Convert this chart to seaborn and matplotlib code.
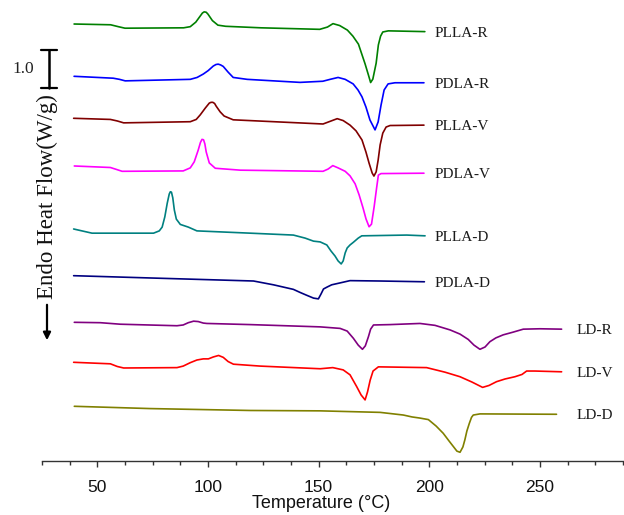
import numpy as np
import pandas as pd
import matplotlib
matplotlib.use("Agg")
import matplotlib.pyplot as plt
import matplotlib.transforms as mtransforms
import seaborn as sns

# ---------------- data ----------------
samples = ["PLLA-R", "PDLA-R", "PLLA-V", "PDLA-V", "PLLA-D", "PDLA-D", "LD-R", "LD-V", "LD-D"]
colors = ["#008000", "#0000FF", "#800000", "#FF00FF", "#008080", "#000080", "#800080", "#FF0000", "#808000"]
# vertical stacking offsets (W/g)
offsets = [-0.632, -2.008, -3.113, -4.368, -6.026, -7.255, -8.482, -9.534, -10.692]

plla_r_T = [39.5, 56, 59.5, 62.5, 89, 92, 94.5, 96.5, 97.5, 98.3, 99.2, 100, 102, 104.5, 108, 124, 150.5, 154,
            156.5, 159.5, 163, 165.5, 168, 169.5, 171, 172.5, 173.5, 174.5, 176, 177, 178, 179, 181.5, 198]
plla_r_hf = [0, -0.02, -0.07, -0.11, -0.10, -0.07, 0.05, 0.21, 0.29, 0.32, 0.31, 0.26, 0.09, -0.03, -0.06,
             -0.10, -0.14, -0.08, 0.01, -0.04, -0.16, -0.32, -0.53, -0.79, -1.05, -1.34, -1.54, -1.45, -1.03,
             -0.55, -0.32, -0.21, -0.18, -0.20]

pdla_r_T = [39.5, 57.2, 60, 62.6, 92, 95.1, 97.9, 100.1, 102.4, 103.6, 104.6, 105.7, 106.9, 109.1, 111.4, 117.7,
            141.6, 151.9, 155.2, 158.8, 162, 165.6, 167.8, 169.6, 171.4, 173.2, 175.5, 176.9, 178.2, 179.6,
            181.4, 184.5, 197.6]
pdla_r_hf = [0, -0.05, -0.08, -0.12, -0.08, -0.03, 0.06, 0.15, 0.27, 0.31, 0.32, 0.30, 0.26, 0.11, -0.03, -0.08,
             -0.16, -0.13, -0.08, -0.03, -0.08, -0.20, -0.36, -0.54, -0.81, -1.15, -1.41, -1.20, -0.76, -0.36,
             -0.20, -0.17, -0.17]

plla_v_T = [39.3, 55.9, 59, 61.9, 92, 94.7, 96.5, 98.8, 100.6, 101.4, 102.2, 103, 103.7, 105.5, 107.3, 111.4,
            152, 155.2, 158.4, 161.1, 164.2, 166.9, 169.6, 171.4, 172.8, 174.2, 175, 176, 176.9, 177.8, 179,
            180.5, 182.3, 197.6]
plla_v_hf = [0, -0.03, -0.07, -0.12, -0.09, -0.03, 0.09, 0.27, 0.40, 0.42, 0.42, 0.39, 0.32, 0.17, 0.06, -0.04,
             -0.15, -0.08, -0.01, -0.06, -0.18, -0.33, -0.57, -0.89, -1.18, -1.44, -1.52, -1.41, -1.10, -0.70,
             -0.39, -0.23, -0.19, -0.18]

pdla_v_T = [39.6, 55.9, 58.6, 61.2, 88.8, 92, 93.8, 95.6, 96.6, 97.3, 98.0, 98.6, 99.2, 100.6, 103.3, 114.6,
            152, 154.3, 156.4, 158.8, 162, 164.2, 166.5, 168.3, 170.1, 171.4, 172.8, 173.9, 175.1, 176.2, 177,
            178.2, 197.6]
pdla_v_hf = [0, -0.04, -0.09, -0.14, -0.13, -0.05, 0.11, 0.42, 0.62, 0.70, 0.69, 0.58, 0.37, 0.08, -0.06, -0.11,
             -0.14, -0.08, 0.01, -0.05, -0.14, -0.26, -0.47, -0.76, -1.11, -1.39, -1.60, -1.53, -1.07, -0.58,
             -0.24, -0.20, -0.19]

plla_d_T = [39.3, 42.3, 47.6, 75.4, 78, 79.3, 80.5, 81.6, 82.5, 83.0, 83.5, 84.1, 84.8, 85.7, 87.5, 91.1, 95,
            119.1, 138.6, 143.9, 147.7, 150.7, 153.7, 155.6, 157.4, 158.8, 160.2, 161.1, 162, 162.9, 164.2,
            165.7, 167.9, 169.5, 189.8, 198.1]
plla_d_hf = [0, -0.04, -0.11, -0.11, -0.05, 0.05, 0.32, 0.68, 0.92, 0.98, 0.97, 0.82, 0.50, 0.26, 0.12, 0.05,
             -0.05, -0.11, -0.16, -0.24, -0.32, -0.34, -0.42, -0.58, -0.71, -0.84, -0.92, -0.84, -0.63, -0.50,
             -0.42, -0.35, -0.24, -0.18, -0.16, -0.18]

pdla_d_T = [39.3, 73.9, 120.6, 129.6, 138.6, 141.6, 144.4, 147.7, 149.9, 151.1, 152.2, 153.8, 155.9, 159.7,
            164.2, 177.8, 197.8]
pdla_d_hf = [0, -0.06, -0.14, -0.24, -0.36, -0.44, -0.51, -0.59, -0.61, -0.48, -0.35, -0.30, -0.24, -0.19,
             -0.13, -0.14, -0.16]

ld_r_T = [39.6, 51.4, 60.4, 86, 88.8, 91.1, 93.5, 95.6, 97.9, 99.5, 119.1, 150.7, 159.7, 162.9, 165.7, 167.9,
          169.8, 171.1, 172.5, 173.5, 174.8, 182.3, 195.8, 202.6, 209.4, 213.9, 217.6, 220.2, 222.9, 225.2,
          227.4, 230.1, 233.4, 237.8, 242.5, 250, 259.8]
ld_r_hf = [0, -0.01, -0.05, -0.09, -0.07, -0.01, 0.03, 0.02, -0.02, -0.03, -0.06, -0.12, -0.16, -0.23, -0.42,
           -0.60, -0.71, -0.62, -0.38, -0.18, -0.07, -0.06, -0.03, -0.08, -0.20, -0.31, -0.45, -0.60, -0.71,
           -0.65, -0.51, -0.41, -0.33, -0.26, -0.18, -0.17, -0.18]

ld_v_T = [39.3, 55.9, 59, 61.9, 86, 88.8, 92, 95, 97.9, 100.2, 102.4, 104.8, 106.9, 109.1, 111.5, 123.6, 150.7,
          156.4, 161.1, 164.2, 167.2, 169.2, 171, 172.1, 173.3, 174.6, 177, 198.8, 207.1, 213.9, 219.3, 224.1,
          227, 230.4, 234.2, 238.7, 241.9, 244, 247.7, 259.8]
ld_v_hf = [0, -0.04, -0.11, -0.15, -0.14, -0.10, -0.01, 0.06, 0.09, 0.09, 0.14, 0.18, 0.13, 0.02, -0.05, -0.10,
           -0.17, -0.14, -0.20, -0.33, -0.64, -0.86, -0.99, -0.78, -0.47, -0.23, -0.12, -0.14, -0.26, -0.38,
           -0.52, -0.66, -0.61, -0.51, -0.44, -0.38, -0.32, -0.23, -0.23, -0.25]

ld_d_T = [39.6, 73.9, 119.1, 150.7, 177.8, 188.3, 192.2, 195.8, 199.6, 203.1, 206.3, 208.9, 210.9, 212.5,
          213.9, 215.2, 216.1, 217, 218.1, 219.1, 219.9, 222.9, 257.5]
ld_d_hf = [0, -0.06, -0.11, -0.12, -0.16, -0.23, -0.28, -0.31, -0.35, -0.52, -0.71, -0.91, -1.06, -1.18, -1.21,
           -1.07, -0.88, -0.65, -0.45, -0.29, -0.23, -0.20, -0.21]

temps = [plla_r_T, pdla_r_T, plla_v_T, pdla_v_T, plla_d_T, pdla_d_T, ld_r_T, ld_v_T, ld_d_T]
flows = [plla_r_hf, pdla_r_hf, plla_v_hf, pdla_v_hf, plla_d_hf, pdla_d_hf, ld_r_hf, ld_v_hf, ld_d_hf]

x_major = [50, 100, 150, 200, 250]
scale_bar_value = 1.0

# ---------------- build long table ----------------
rows = []
for name, T, hf, off in zip(samples, temps, flows, offsets):
    for t, h in zip(T, hf):
        rows.append({"Temperature": t, "Flow": h + off, "Sample": name})
df = pd.DataFrame(rows)

# ---------------- plotting ----------------
sns.set_style("white")
plt.rcParams["font.family"] = ["Liberation Sans", "DejaVu Sans"]

W, H = 624, 515
fig = plt.figure(figsize=(W / 100, H / 100), dpi=100)
ax_left, ax_bottom_px = 42, 461
ax = fig.add_axes([ax_left / W, 1 - ax_bottom_px / H, 1 - ax_left / W, ax_bottom_px / H])

sns.lineplot(data=df, x="Temperature", y="Flow", hue="Sample", hue_order=samples,
             palette=dict(zip(samples, colors)), estimator=None, sort=False, legend=False,
             linewidth=1.2, ax=ax)

ax.set_xlim(25, 288)
ax.set_ylim(-ax_bottom_px / 38.0, 0)

# curve labels
serif = ["Liberation Serif", "DejaVu Serif"]
for name, T, hf, off in zip(samples, temps, flows, offsets):
    lx = 266.7 if name.startswith("LD") else 202.6
    ax.annotate(name, xy=(lx, hf[-1] + off), xytext=(0, -1.2), textcoords="offset points",
                ha="left", va="center", fontsize=11, family=serif, color="#1a1a1a")

# axes styling
for s in ["left", "top", "right"]:
    ax.spines[s].set_visible(False)
ax.spines["bottom"].set_color("#333333")
ax.spines["bottom"].set_linewidth(1.0)
ax.set_yticks([])
ax.set_xticks(x_major)
ax.set_xticks(np.arange(25, 289, 12.5), minor=True)
ax.tick_params(axis="x", which="both", bottom=True, direction="out", width=1.0, color="#333333")
ax.tick_params(axis="x", which="major", length=4.5, pad=9.5, labelsize=12.5, labelcolor="#111111")
ax.tick_params(axis="x", which="minor", length=3)
ax.set_xlabel("Temperature (°C)", fontsize=13, x=0.48, labelpad=0, color="#111111")
ax.set_ylabel("")

# scale bar (1.0 W/g) in blended coords: x axes-fraction, y data
trans = mtransforms.blended_transform_factory(ax.transAxes, ax.transData)
bx = (48.8 - ax_left) / (W - ax_left)
cap = 7.8 / (W - ax_left)
y_top = -50 / 38.0
y_bot = y_top - scale_bar_value
ax.plot([bx, bx], [y_bot, y_top], color="black", lw=1.8, transform=trans, clip_on=False)
ax.plot([bx - cap, bx + cap], [y_top, y_top], color="black", lw=1.6, transform=trans, clip_on=False)
ax.plot([bx - cap, bx + cap], [y_bot, y_bot], color="black", lw=1.6, transform=trans, clip_on=False)
ax.text((23.5 - ax_left) / (W - ax_left), (y_top + y_bot) / 2, f"{scale_bar_value:.1f}",
        transform=trans, ha="center", va="center", fontsize=12.5, family=serif, color="#222222")

# y label with downward arrow
fig.text(47 / W, 1 - 299 / H, "Endo Heat Flow(W/g)", rotation=90, ha="center", va="bottom",
         fontsize=16.5, family=serif, color="#111111")
ax.annotate("", xy=(47 / W, 1 - 343 / H), xytext=(47 / W, 1 - 302 / H), xycoords="figure fraction",
            textcoords="figure fraction",
            arrowprops=dict(arrowstyle="-|>", lw=1.6, color="black", mutation_scale=11))

fig.savefig("out.png", dpi=100)
